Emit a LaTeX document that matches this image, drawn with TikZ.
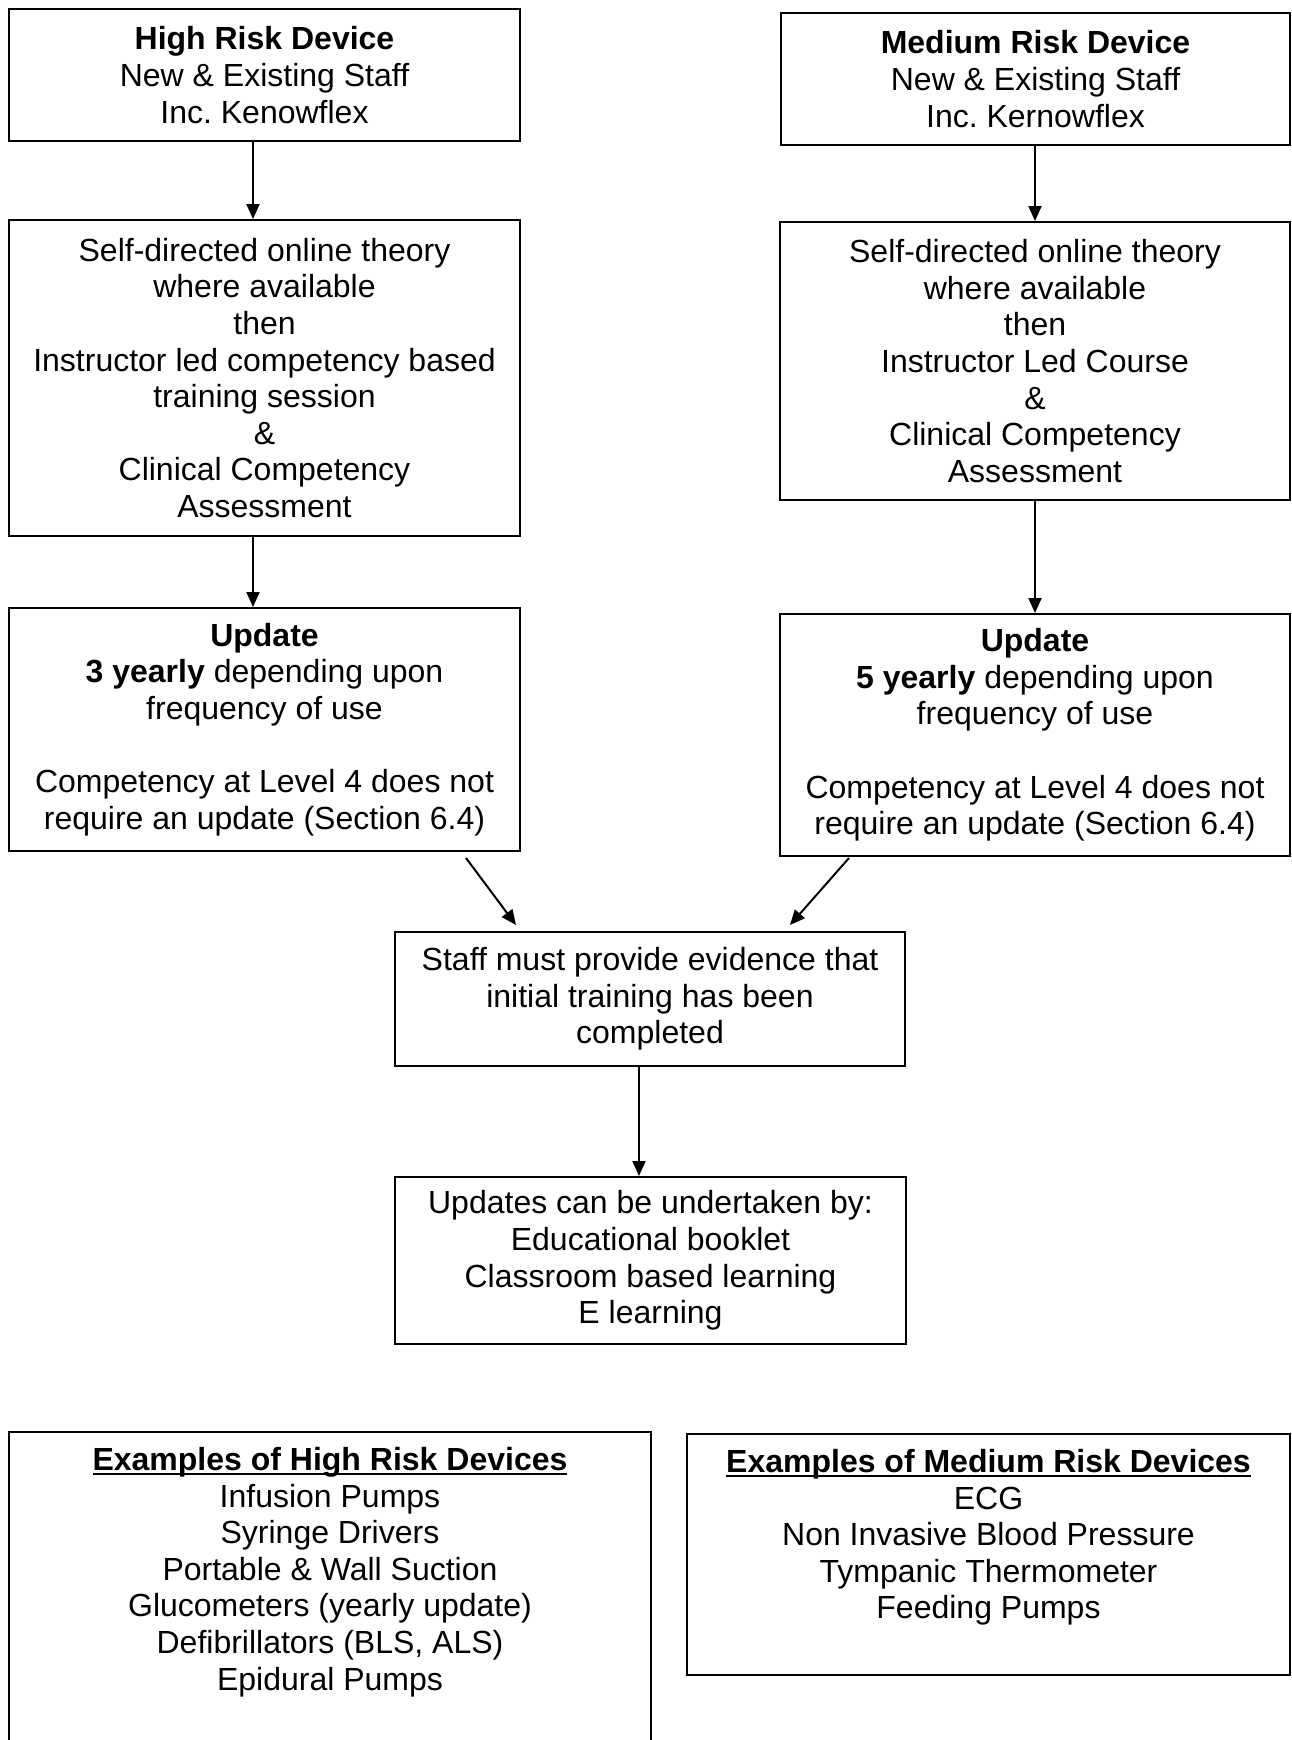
\documentclass[tikz,border=0pt]{standalone}
\usepackage{fontspec}
\setmainfont{Liberation Sans}
\usetikzlibrary{arrows.meta,calc}
\frenchspacing
\newsavebox\ulbox
\newcommand{\thickul}[1]{\sbox\ulbox{#1}\usebox\ulbox\llap{\rule[-5pt]{\wd\ulbox}{2.6pt}}}
\begin{document}
\begin{tikzpicture}[x=1pt,y=-1pt,
  box/.style={draw, line width=2pt, rectangle, inner sep=0pt, align=center,
    font=\fontsize{32}{36.6}\selectfont},
  lbl/.style={inner sep=0pt, align=center, font=\fontsize{32}{36.6}\selectfont},
  arr/.style={line width=2pt, -{Triangle[length=15pt,width=13pt]}}]
\fill[white] (0,0) rectangle (1291,1740);
\useasboundingbox (0,0) rectangle (1291,1740);
\clip (0,0) rectangle (1291,1740);

\node[box, minimum width=511pt, minimum height=132pt] (b1) at (264.5,75)
  {\textbf{High Risk Device}\\New \& Existing Staff\\Inc. Kenowflex};
\node[box, minimum width=509pt, minimum height=132pt] (b2) at (1035.5,79)
  {\textbf{Medium Risk Device}\\New \& Existing Staff\\Inc. Kernowflex};
\node[box, minimum width=511pt, minimum height=316pt] (b3) at (264.5,378)
  {Self-directed online theory\\where available\\then\\Instructor led competency based\\training session\\\&\\Clinical Competency\\Assessment};
\node[box, minimum width=510pt, minimum height=278pt] (b4) at (1035,361)
  {Self-directed online theory\\where available\\then\\Instructor Led Course\\\&\\Clinical Competency\\Assessment};
\node[box, minimum width=511pt, minimum height=243pt] (b5) at (264.5,729.5)
  {\textbf{Update}\\\textbf{3 yearly} depending upon\\frequency of use\\[36.6pt]Competency at Level 4 does not\\require an update (Section 6.4)};
\node[box, minimum width=510pt, minimum height=242pt] (b6) at (1035,735)
  {\textbf{Update}\\\textbf{5 yearly} depending upon\\frequency of use\\[36.6pt]Competency at Level 4 does not\\require an update (Section 6.4)};
\node[box, minimum width=510pt, minimum height=134pt] (b7) at (650,999)
  {Staff must provide evidence that\\initial training has been\\completed};
\node[box, minimum width=511pt, minimum height=167pt] (b8) at (650.5,1260.5)
  {Updates can be undertaken by:\\Educational booklet\\Classroom based learning\\E learning};
\node[box, minimum width=642pt, minimum height=340pt] (b9) at (330,1602) {};
\node[lbl, anchor=north] (t9) at ([yshift=-16pt]b9.north)
  {\thickul{\textbf{Examples of High Risk Devices}}\\Infusion Pumps\\Syringe Drivers\\Portable \& Wall Suction\\Glucometers (yearly update)\\Defibrillators (BLS, ALS)\\Epidural Pumps};
\node[box, minimum width=603pt, minimum height=241pt] (b10) at (988.5,1554.5) {};
\node[lbl, anchor=north] (t10) at ([yshift=-16pt]b10.north)
  {\thickul{\textbf{Examples of Medium Risk Devices}}\\ECG\\Non Invasive Blood Pressure\\Tympanic Thermometer\\Feeding Pumps};

\draw[arr] ([xshift=-11.5pt]b1.south) -- ([xshift=-11.5pt]b3.north);
\draw[arr] ([xshift=-0.5pt]b2.south) -- (b4.north);
\draw[arr] ([xshift=-11.5pt]b3.south) -- ([xshift=-11.5pt]b5.north);
\draw[arr] (b4.south) -- (b6.north);

\coordinate (d1a) at (466,858);
\coordinate (d1b) at (516,925);
\coordinate (d2a) at (849,858);
\coordinate (d2b) at (790,925);
\draw[arr] (d1a) -- (d1b);
\draw[arr] (d2a) -- (d2b);

\draw[arr] ([xshift=-11pt]b7.south) -- ([xshift=-11.5pt]b8.north);
\end{tikzpicture}
\end{document}
